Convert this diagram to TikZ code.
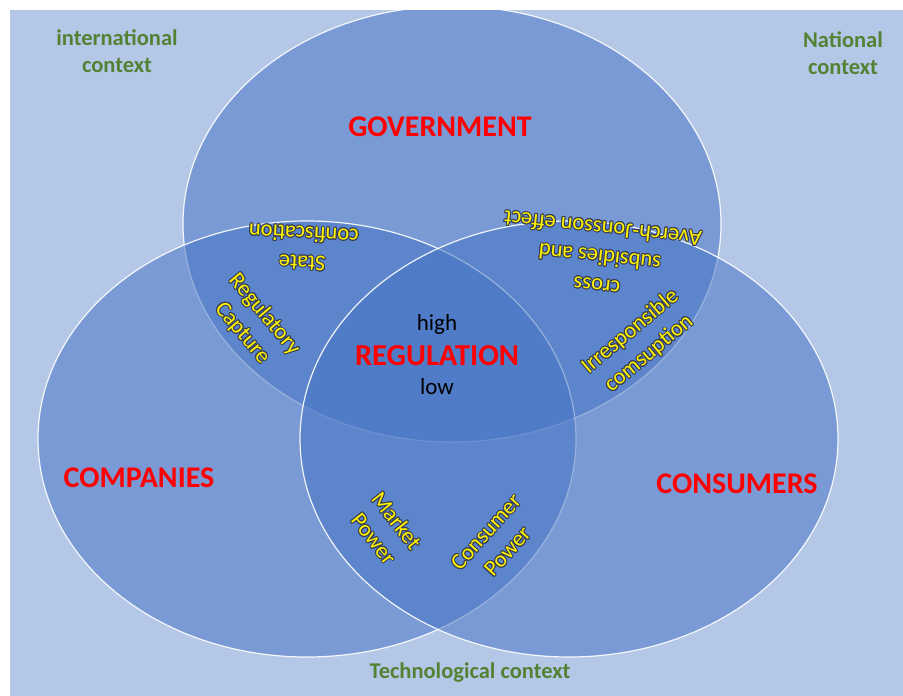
\documentclass[tikz,border=0pt]{standalone}
\usepackage{fontspec}
\setmainfont{Carlito}
\usepackage{tikz}
\usepackage{contour}
\usetikzlibrary{shapes.geometric}
\contourlength{1pt}
\contournumber{12}
\definecolor{backblue}{RGB}{180,199,231}
\definecolor{setblue}{RGB}{68,114,196}
\definecolor{ctxgreen}{RGB}{84,130,53}
\definecolor{glow}{RGB}{55,62,85}
\newcommand{\glow}[1]{\contour{glow}{#1}}
\tikzstyle{set} = [ellipse, draw=white, line width=1.2pt, fill=setblue, fill opacity=0.52, draw opacity=0.9, minimum width=538pt, minimum height=436pt, inner sep=0pt]
\tikzstyle{context} = [text=ctxgreen, font=\fontsize{22.5}{27}\selectfont\bfseries, align=center]
\tikzstyle{actor} = [text=red, font=\fontsize{30}{33}\selectfont\bfseries]
\tikzstyle{effect} = [text=yellow, font=\fontsize{22.5}{29}\selectfont, align=center, inner sep=0pt]
\tikzstyle{level} = [text=black, font=\fontsize{23}{25}\selectfont]

\begin{document}
\begin{tikzpicture}[x=1pt, y=-1pt]
		\useasboundingbox (0,0) rectangle (903,696);
		\fill [backblue] (10,10) rectangle (903,696);
		\begin{scope}
			\clip (10,10) rectangle (903,696);
			\node [set] (government) at (452,224) {};
			\node [set] (companies) at (307,439) {};
			\node [set] (consumers) at (569,439) {};
		\end{scope}

		\node [context] (international) at (117,51) {international\\context};
		\node [context] (national) at (843,53) {National\\context};
		\node [context] (technological) at (470,673) {Technological context};

		\node [actor] (govlabel) at (440,127) {GOVERNMENT};
		\node [actor] (complabel) at (139,478) {COMPANIES};
		\node [actor] (conslabel) at (737,484) {CONSUMERS};

		\node [actor, font=\fontsize{30.5}{33}\selectfont\bfseries] (regulation) at (437,356) {REGULATION};
		\node [level, above of=regulation, node distance=32pt] (high) {high};
		\node [level, below of=regulation, node distance=31pt] (low) {low};

		\node [effect, rotate=177] (state) at (303,248) {\glow{State}\\\glow{confiscation}};
		\node [effect, rotate=-50] (capture) at (253,324) {\glow{Regulatory}\\\glow{Capture}};
		\node [effect, rotate=174] (cross) at (600,255) {\glow{cross}\\\glow{subsidies and}\\\glow{Averch-Jonsson effect}};
		\node [effect, rotate=40] (irresp) at (640,343) {\glow{Irresponsible}\\\glow{comsuption}};
		\node [effect, rotate=-52] (market) at (385,530) {\glow{Market}\\\glow{Power}};
		\node [effect, rotate=48] (consumerpower) at (497,542) {\glow{Consumer}\\\glow{Power}};
	\end{tikzpicture}
\end{document}
